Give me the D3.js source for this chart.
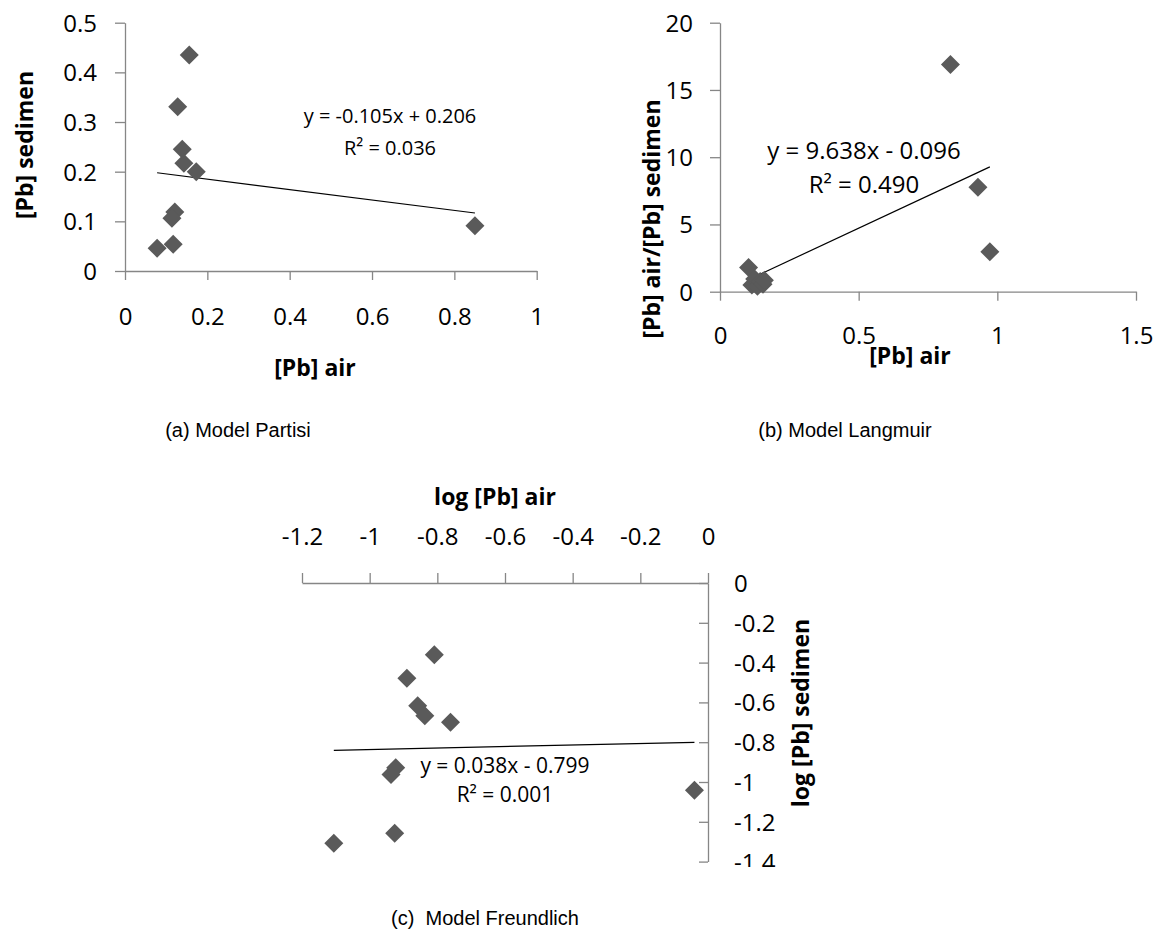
<!DOCTYPE html>
<html><head><meta charset="utf-8">
<script src="https://cdn.jsdelivr.net/npm/d3@7"></script>
<style>body{margin:0;background:#fff} svg{display:block}</style>
</head><body>
<script>
// ---- data ----
const partisiX = [0.156,0.128,0.139,0.143,0.173,0.121,0.114,0.117,0.078,0.850];
const partisiY = [0.435,0.331,0.245,0.217,0.200,0.119,0.106,0.054,0.046,0.091];
const partisiFit = [-0.105, 0.206];
const partisiXTicks = [0,0.2,0.4,0.6,0.8,1];
const partisiYTicks = [0,0.1,0.2,0.3,0.4,0.5];

const langmuirX = [0.103,0.115,0.125,0.135,0.145,0.155,0.160,0.831,0.930,0.973];
const langmuirY = [1.80,0.50,0.95,0.40,0.75,0.55,0.85,16.9,7.76,2.97];
const langmuirFit = [9.638, -0.096];
const langmuirXTicks = [0,0.5,1,1.5];
const langmuirYTicks = [0,5,10,15,20];

const freundX = [-0.809,-0.890,-0.858,-0.837,-0.761,-0.923,-0.937,-0.040,-0.926,-1.106];
const freundY = [-0.361,-0.479,-0.617,-0.667,-0.700,-0.928,-0.962,-1.042,-1.258,-1.308];
const freundFit = [0.038, -0.799];
const freundXTicks = [-1.2,-1,-0.8,-0.6,-0.4,-0.2,0];
const freundYTicks = [0,-0.2,-0.4,-0.6,-0.8,-1,-1.2,-1.4];

const eqA = ["y = -0.105x + 0.206", "R\u00B2 = 0.036"];
const eqB = ["y = 9.638x - 0.096", "R\u00B2 = 0.490"];
const eqC = ["y = 0.038x - 0.799", "R\u00B2 = 0.001"];
const captions = ["(a) Model Partisi", "(b) Model Langmuir", "(c)  Model Freundlich"];

// ---- drawing ----
const W = 1162, H = 931;
const AXIS = "#868686", MARK = "#5a5a5a";
const FONT = "'Open Sans', Lato, 'Liberation Sans', sans-serif";
const CAPFONT = "'Liberation Sans', Arial, sans-serif";
const diamond = r => `M0,${-r}L${r},0L0,${r}L${-r},0Z`;

const svg = d3.select("body").append("svg").attr("width", W).attr("height", H);
svg.append("rect").attr("width", W).attr("height", H).attr("fill", "#fff");

function styleAxis(g) {
  g.select(".domain").attr("stroke", AXIS).attr("stroke-width", 1.3);
  g.selectAll(".tick line").attr("stroke", AXIS).attr("stroke-width", 1.3);
  g.selectAll("text").attr("font-family", FONT).attr("font-size", 24).attr("fill", "#000");
}
const fmt = d => String(d);

function drawPoints(g, xs, ys, x, y) {
  g.selectAll("path.pt").data(xs.map((v, i) => [v, ys[i]])).join("path")
    .attr("class", "pt").attr("d", diamond(9.5)).attr("fill", MARK)
    .attr("transform", d => `translate(${x(d[0])},${y(d[1])})`);
}
function drawFit(g, xs, fit, x, y) {
  const [lo, hi] = d3.extent(xs);
  const ends = [lo, hi].map(v => [v, fit[0] * v + fit[1]]);
  g.append("path").attr("d", d3.line().x(d => x(d[0])).y(d => y(d[1]))(ends))
    .attr("stroke", "#000").attr("stroke-width", 1.2).attr("fill", "none");
}
function eqText(g, lines, cx, ys, size) {
  lines.forEach((t, i) => g.append("text").attr("x", cx).attr("y", ys[i]).attr("dy", "0.35em")
    .attr("text-anchor", "middle").attr("font-family", FONT).attr("font-size", size).attr("fill", "#000").text(t));
}
function title(g, t, x, y, rot) {
  g.append("text").attr("transform", `translate(${x},${y})` + (rot ? " rotate(-90)" : ""))
    .attr("dy", "0.35em").attr("text-anchor", "middle").attr("font-family", FONT)
    .attr("font-weight", "bold").attr("font-size", 23).attr("fill", "#000").text(t);
}

// Panel A
{
  const g = svg.append("g");
  const x = d3.scaleLinear().domain([0, 1]).range([125, 536.7]);
  const y = d3.scaleLinear().domain([0, 0.5]).range([271, 22.7]);
  const gx = g.append("g").attr("transform", `translate(0,${y(0)})`)
    .call(d3.axisBottom(x).tickValues(partisiXTicks).tickSize(9).tickSizeOuter(0).tickFormat(fmt));
  styleAxis(gx); gx.selectAll("text").attr("y", 46).attr("dy", "0.35em");
  const gy = g.append("g").attr("transform", `translate(${x(0)},0)`)
    .call(d3.axisLeft(y).tickValues(partisiYTicks).tickSize(10).tickSizeOuter(0).tickFormat(fmt));
  styleAxis(gy); gy.selectAll("text").attr("x", -28).attr("dy", "0.35em");
  drawFit(g, partisiX, partisiFit, x, y);
  drawPoints(g, partisiX, partisiY, x, y);
  eqText(g, eqA, 390, [116, 148], 20);
  title(g, "[Pb] sedimen", 25, 145, true);
  title(g, "[Pb] air", 315, 368, false);
}
// Panel B
{
  const g = svg.append("g");
  const x = d3.scaleLinear().domain([0, 1.5]).range([720, 1136]);
  const y = d3.scaleLinear().domain([0, 20]).range([291.7, 22.7]);
  const gx = g.append("g").attr("transform", `translate(0,${y(0)})`)
    .call(d3.axisBottom(x).tickValues(langmuirXTicks).tickSize(9).tickSizeOuter(0).tickFormat(fmt));
  styleAxis(gx); gx.selectAll("text").attr("y", 44).attr("dy", "0.35em");
  const gy = g.append("g").attr("transform", `translate(${x(0)},0)`)
    .call(d3.axisLeft(y).tickValues(langmuirYTicks).tickSize(10).tickSizeOuter(0).tickFormat(fmt));
  styleAxis(gy); gy.selectAll("text").attr("x", -27).attr("dy", "0.35em");
  drawFit(g, langmuirX, langmuirFit, x, y);
  drawPoints(g, langmuirX, langmuirY, x, y);
  eqText(g, eqB, 864, [151, 185], 24);
  title(g, "[Pb] air/[Pb] sedimen", 652, 219, true);
  title(g, "[Pb] air", 910, 356, false);
}
// Panel C
{
  svg.append("clipPath").attr("id", "clipC").append("rect").attr("x", 0).attr("y", 440).attr("width", W).attr("height", 427);
  const g = svg.append("g").attr("clip-path", "url(#clipC)");
  const x = d3.scaleLinear().domain([-1.2, 0]).range([302, 708]);
  const y = d3.scaleLinear().domain([0, -1.4]).range([583, 861.6]);
  const gx = g.append("g").attr("transform", `translate(0,${y(0)})`)
    .call(d3.axisTop(x).tickValues(freundXTicks).tickSize(10).tickSizeOuter(0).tickFormat(fmt));
  styleAxis(gx); gx.selectAll("text").attr("y", -46).attr("dy", "0.35em");
  const gy = g.append("g").attr("transform", `translate(${x(0)},0)`)
    .call(d3.axisRight(y).tickValues(freundYTicks).tickSize(-9).tickPadding(26).tickSizeOuter(0).tickFormat(fmt));
  styleAxis(gy); gy.selectAll("text").attr("dy", "0.35em");
  drawFit(g, freundX, freundFit, x, y);
  drawPoints(g, freundX, freundY, x, y);
  eqText(g, eqC, 505, [766, 795], 21);
  title(g, "log [Pb] sedimen", 801, 713, true);
  title(g, "log [Pb] air", 495, 497, false);
}
// captions
[[captions[0], 238, 430], [captions[1], 845, 430], [captions[2], 485, 918]].forEach(([t, cx, cy]) =>
  svg.append("text").attr("x", cx).attr("y", cy).attr("dy", "0.35em").attr("text-anchor", "middle")
    .attr("font-family", CAPFONT).attr("font-size", 20).attr("fill", "#000")
    .style("white-space", "pre").text(t));
</script>
</body></html>
